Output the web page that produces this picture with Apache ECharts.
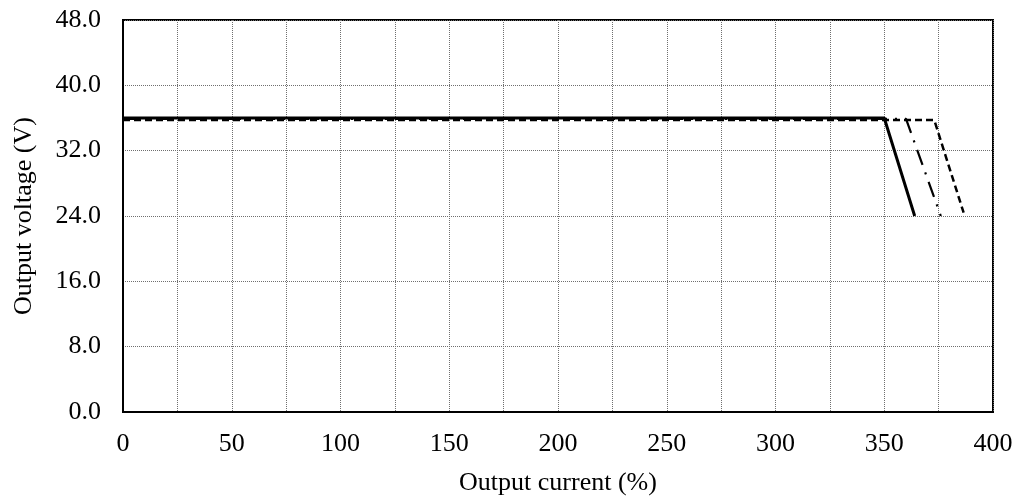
<!DOCTYPE html>
<html>
<head>
<meta charset="utf-8">
<script src="https://cdn.jsdelivr.net/npm/echarts@6/dist/echarts.min.js"></script>
<style>
html,body{margin:0;padding:0;background:#fff;}
#chart{width:1019px;height:504px;}
</style>
</head>
<body>
<div id="chart"></div>
<script>
// Data
var xTickLabels = [0, 50, 100, 150, 200, 250, 300, 350, 400];
var yTickLabels = ['0.0', '8.0', '16.0', '24.0', '32.0', '40.0', '48.0'];
var seriesSolidX = [0, 350, 364];
var seriesSolidY = [36.0, 36.0, 24.0];
var seriesDashDotX = [0, 360, 376];
var seriesDashDotY = [35.9, 35.9, 24.0];
var seriesDashedX = [0, 373, 386.5];
var seriesDashedY = [35.75, 35.75, 24.4];

function pairs(xs, ys) { return xs.map(function (x, i) { return [x, ys[i]]; }); }

var FONT = '"Liberation Serif", "Times New Roman", serif';
var chart = echarts.init(document.getElementById('chart'), null, { renderer: 'canvas' });
var gridLine = { show: true, lineStyle: { color: '#6f6f6f', width: 1, type: [1, 1] } };

chart.setOption({
  animation: false,
  backgroundColor: '#ffffff',
  grid: { left: 123, right: 26, top: 20, bottom: 92, show: true, borderColor: '#000', borderWidth: 2, backgroundColor: 'transparent', containLabel: false },
  xAxis: {
    type: 'value', min: 0, max: 400, interval: 25,
    name: 'Output current (%)', nameLocation: 'middle', nameGap: 58,
    nameTextStyle: { fontFamily: FONT, fontSize: 26, color: '#000' },
    axisLine: { show: true, lineStyle: { color: '#000', width: 2 } },
    axisTick: { show: false },
    axisLabel: {
      fontFamily: FONT, fontSize: 26, color: '#000', margin: 19, showMinLabel: true, showMaxLabel: true,
      formatter: function (v) { return xTickLabels.indexOf(v) >= 0 ? String(v) : ''; }
    },
    splitLine: gridLine
  },
  yAxis: {
    type: 'value', min: 0, max: 48, interval: 8,
    name: 'Output voltage (V)', nameLocation: 'middle', nameGap: 86,
    nameTextStyle: { fontFamily: FONT, fontSize: 26, color: '#000' },
    axisLine: { show: true, lineStyle: { color: '#000', width: 2 } },
    axisTick: { show: false },
    axisLabel: {
      fontFamily: FONT, fontSize: 26, color: '#000', margin: 22,
      formatter: function (v) { return yTickLabels[Math.round(v / 8)]; }
    },
    splitLine: gridLine
  },
  series: [
    { type: 'line', data: pairs(seriesDashedX, seriesDashedY), showSymbol: false, symbol: 'none', z: 3,
      lineStyle: { color: '#000', width: 2.5, type: [7, 4] } },
    { type: 'line', data: pairs(seriesDashDotX, seriesDashDotY), showSymbol: false, symbol: 'none', z: 4,
      lineStyle: { color: '#000', width: 2.2, type: [16, 8, 2, 8] } },
    { type: 'line', data: pairs(seriesSolidX, seriesSolidY), showSymbol: false, symbol: 'none', z: 5,
      lineStyle: { color: '#000', width: 3, type: 'solid' } }
  ]
});
</script>
</body>
</html>
